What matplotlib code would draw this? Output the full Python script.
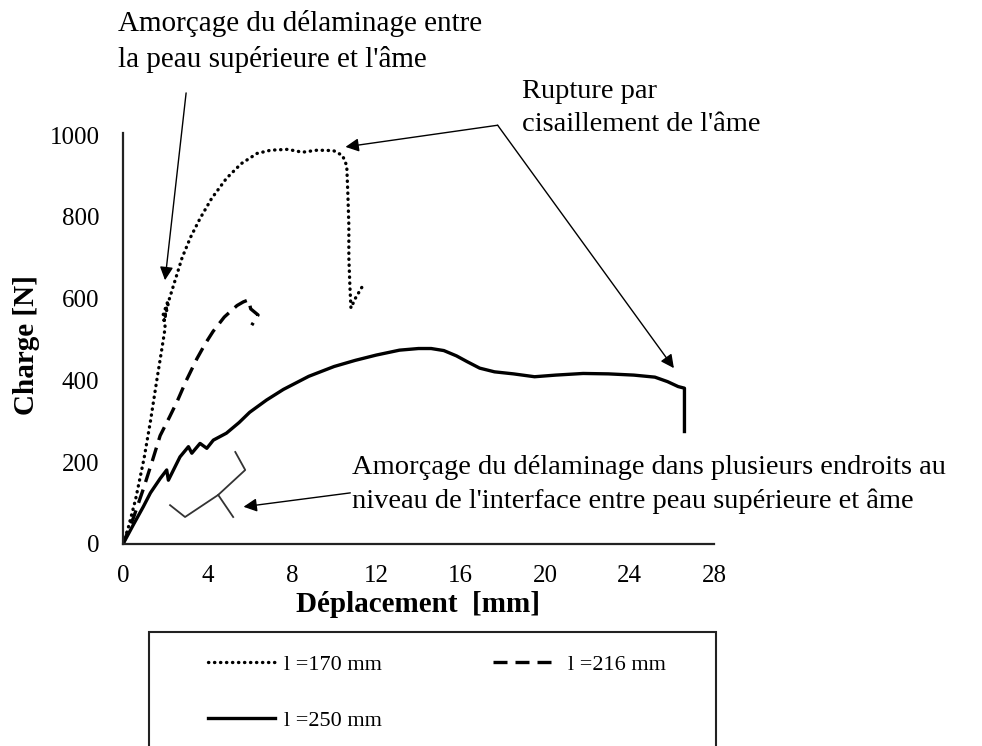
import numpy as np
import matplotlib
matplotlib.use('Agg')
import matplotlib.pyplot as plt
from matplotlib.patches import Rectangle

plt.rcParams['font.family'] = ['Liberation Serif', 'DejaVu Serif']

# courbes charge-deplacement
x170 = [0, 0.25, 0.6, 1.0, 1.3, 1.6, 1.85, 2.0, 1.9, 2.1, 1.95, 2.2, 2.5, 2.8, 3.2, 3.65, 4.2,
        4.9, 5.6, 6.35, 7.0, 7.8, 8.5, 9.2, 9.97, 10.4, 10.6, 10.65, 10.7, 10.7, 10.75, 10.8,
        11.0, 11.4]
y170 = [0, 40, 110, 210, 300, 400, 480, 530, 560, 590, 545, 600, 650, 700, 750, 796, 845,
        894, 930, 955, 963, 965, 958, 963, 962, 950, 925, 860, 780, 700, 630, 577, 600, 635]

x216 = [0, 0.5, 0.96, 1.4, 1.76, 2.2, 2.56, 3.0, 3.5, 3.9, 4.27, 4.8, 5.4, 5.7, 5.95, 6.05,
        6.4, 6.1]
y216 = [0, 65, 134, 205, 265, 310, 348, 400, 453, 490, 520, 555, 583, 592, 597, 575, 560, 535]

x250 = [0, 0.5, 0.96, 1.3, 1.76, 2.07, 2.15, 2.7, 3.1, 3.26, 3.65, 3.97, 4.28, 4.9, 5.5, 6.0,
        6.8, 7.6, 8.8, 10.0, 11.0, 12.0, 13.1, 14.0, 14.6, 15.2, 15.8, 16.3, 16.9, 17.6, 18.5,
        19.5, 20.5, 21.8, 23.0, 24.2, 25.2, 25.8, 26.3, 26.6, 26.6]
y250 = [0, 48, 91, 125, 160, 181, 156, 213, 238, 222, 246, 234, 254, 271, 297, 322, 352,
        378, 410, 434, 449, 462, 474, 478, 478, 473, 460, 446, 430, 421, 416, 409, 413, 417,
        416, 413, 408, 397, 385, 381, 275]

labels = ['l =170 mm', 'l =216 mm', 'l =250 mm']
xticks = [0, 4, 8, 12, 16, 20, 24, 28]
yticks = [0, 200, 400, 600, 800, 1000]

# petit symbole de l'interface (crochet)
bracket_x = [5.32, 5.79, 4.51, 2.94, 2.23]
bracket_y = [225, 181, 120, 66, 95]
stem_x = [4.51, 5.22]
stem_y = [120, 66]

W, H = 982, 746
fig = plt.figure(figsize=(W / 100, H / 100), dpi=100)
ax = fig.add_axes([123 / W, 1 - 544 / H, (714 - 123) / W, (544 - 133) / H])

l1, = ax.plot(x170, y170, color='black', lw=2.4, linestyle=(0, (0.1, 1.7)),
              dash_capstyle='round', label=labels[0])
l2, = ax.plot(x216, y216, color='black', lw=2.4, linestyle=(0, (4.2, 2.4)), label=labels[1])
l3, = ax.plot(x250, y250, color='black', lw=2.4, label=labels[2])

ax.plot(bracket_x, bracket_y, color='#333333', lw=1.3)
ax.plot(stem_x, stem_y, color='#333333', lw=1.3)

ax.set_xlim(0, 28)
ax.set_ylim(0, 1005)
ax.set_xticks(xticks)
ax.set_yticks(yticks)
ax.tick_params(length=0, labelsize=18)
ax.tick_params(axis='x', pad=15)
ax.tick_params(axis='y', pad=17)
for s in ['top', 'right']:
    ax.spines[s].set_visible(False)
for s in ['left', 'bottom']:
    ax.spines[s].set_linewidth(1.6)
    ax.spines[s].set_color('#222222')

fig.text(26 / W, 1 - 345 / H, 'Charge [N]', rotation=90, fontsize=21, fontweight='bold',
         ha='center', va='center')
fig.text(418 / W, 1 - 605 / H, 'Déplacement  [mm]', fontsize=21, fontweight='bold',
         ha='center', va='center')

# annotations
ap = dict(arrowstyle='-|>', color='black', lw=1.0, mutation_scale=20, shrinkA=0, shrinkB=0)
fig.text(118 / W, 1 - 10 / H, "Amorçage du délaminage entre\nla peau supérieure et l'âme",
         fontsize=21, ha='left', va='top', linespacing=1.42)
ax.annotate('', xy=(1.99, 645), xytext=(2.99, 1103), arrowprops=ap, annotation_clip=False)

fig.text(522 / W, 1 - 79 / H, "Rupture par\ncisaillement de l'âme",
         fontsize=20.5, ha='left', va='top', linespacing=1.42)
ax.annotate('', xy=(10.54, 971), xytext=(17.75, 1024), arrowprops=ap, annotation_clip=False)
ax.annotate('', xy=(26.1, 430), xytext=(17.75, 1024), arrowprops=ap, annotation_clip=False)

fig.text(352 / W, 1 - 455 / H,
         "Amorçage du délaminage dans plusieurs endroits au\n"
         "niveau de l'interface entre peau supérieure et âme",
         fontsize=20.5, ha='left', va='top', linespacing=1.42)
ax.annotate('', xy=(5.71, 91), xytext=(10.77, 125), arrowprops=ap, annotation_clip=False)

# cadre de la legende (coupe en bas)
fig.patches.append(Rectangle((149 / W, -0.05), (716 - 149) / W, 0.05 + 1 - 632 / H,
                             transform=fig.transFigure, fill=False, edgecolor='#222222',
                             lw=1.5))
ax.legend([l1, l3, l2], [labels[0], labels[2], labels[1]], ncol=2, frameon=False,
          loc='upper left', bbox_to_anchor=(188 / W, 1 - 634 / H),
          bbox_transform=fig.transFigure, fontsize=16, handlelength=3.0,
          handletextpad=0.4, columnspacing=5.0, labelspacing=1.6)

fig.savefig('out.png', dpi=100)
